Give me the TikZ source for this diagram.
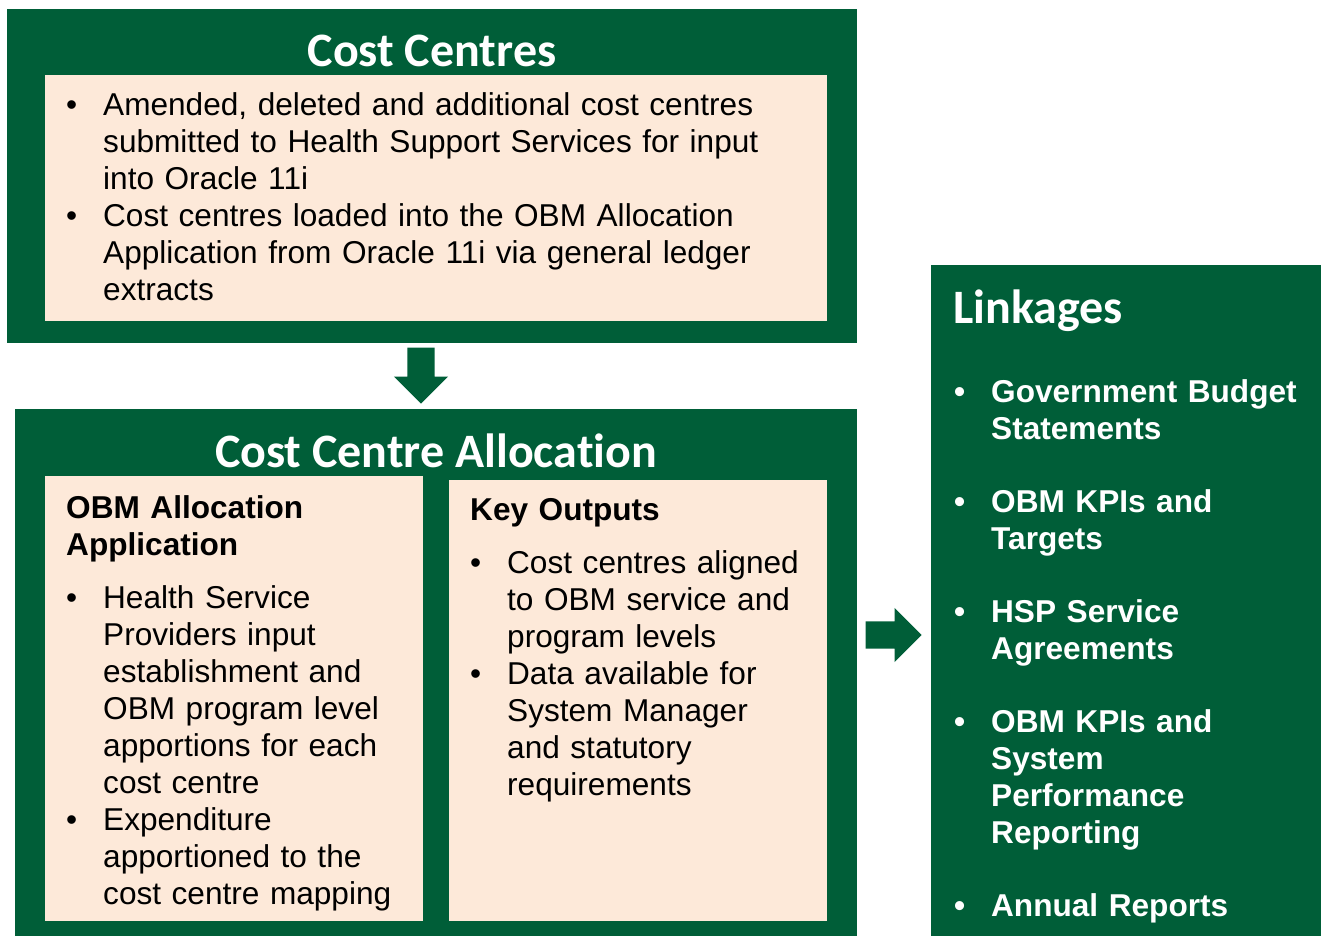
\documentclass[tikz,border=0pt]{standalone}
\usepackage{fontspec}
\setmainfont{Liberation Sans}
\newfontfamily\headfont[Ligatures=NoCommon]{Carlito}
\usepackage{xcolor}
\usepackage{tikz}
\usetikzlibrary{positioning,shapes.arrows}
\definecolor{WAGreen}{RGB}{0,94,56}
\definecolor{PeachFill}{RGB}{253,233,217}
\newcommand{\bul}[1]{\noindent\hangindent=37pt\hangafter=1\makebox[37pt][l]{\textbullet}\strut#1\par}

\begin{document}
\begin{tikzpicture}[x=1pt, y=-1pt,
    % Style cho khung
    greenbox/.style={rectangle, fill=WAGreen, inner sep=0pt, anchor=north west},
    peachbox/.style={rectangle, fill=PeachFill, inner sep=0pt, anchor=north west},
    % Style chữ
    boxtitle/.style={font=\headfont\bfseries\fontsize{48}{56}\selectfont, text=white, inner sep=0pt},
    bodytext/.style={font=\fontsize{31.6}{37}\selectfont, text=black, align=left, inner sep=0pt, anchor=north west},
    linktext/.style={bodytext, font=\bfseries\fontsize{31.6}{37}\selectfont, text=white},
    % Style mũi tên khối
    blockarrow/.style={single arrow, fill=WAGreen, inner xsep=0pt, inner ysep=13.5pt, minimum height=56,
        single arrow head extend=13.5pt, single arrow head indent=0pt, anchor=tip}
]
    \useasboundingbox (0,0) rectangle (1325,936);

    % --- KHUNG ---
    \node[greenbox, minimum width=850, minimum height=334] (ccBox) at (7,9) {};
    \node[peachbox, minimum width=782, minimum height=246] (ccInner) at (45,75) {};

    \node[greenbox, minimum width=842, minimum height=527] (allocBox) at (15,409) {};
    \node[peachbox, minimum width=378, minimum height=445] (obmInner) at (45,476) {};
    \node[peachbox, minimum width=378, minimum height=441] (keyInner) at (449,480) {};

    \node[greenbox, minimum width=390, minimum height=671] (linkBox) at (931,265) {};

    % --- MŨI TÊN ---
    \node[blockarrow, rotate=-90] (downArrow) at (421,404) {};
    \node[blockarrow] (rightArrow) at (922,635) {};

    % --- TIÊU ĐỀ ---
    \node[boxtitle, anchor=base] (ccTitle) at (432,67) {Cost Centres};
    \node[boxtitle, anchor=base] (allocTitle) at (436,467) {Cost Centre Allocation};
    \node[boxtitle, anchor=base west] (linkTitle) at (953,323) {Linkages};

    % --- NỘI DUNG ---
    \node[bodytext, text width=760] (ccList) at (66,89) {%
        \bul{Amended, deleted and additional cost centres\newline submitted to Health Support Services for input\newline into Oracle 11i}%
        \bul{Cost centres loaded into the OBM Allocation\newline Application from Oracle 11i via general ledger\newline extracts}};

    \node[bodytext, text width=355] (obmList) at (66,492) {%
        \strut\textbf{OBM Allocation\newline Application}\par\vskip16pt
        \bul{Health Service\newline Providers input\newline establishment and\newline OBM program level\newline apportions for each\newline cost centre}%
        \bul{Expenditure\newline apportioned to the\newline cost centre mapping}};

    \node[bodytext, text width=355] (keyList) at (470,494) {%
        \strut\textbf{Key Outputs}\par\vskip16pt
        \bul{Cost centres aligned\newline to OBM service and\newline program levels}%
        \bul{Data available for\newline System Manager\newline and statutory\newline requirements}};

    \node[linktext, text width=366] (linkList) at (954,376) {%
        \bul{Government Budget\newline Statements}\vskip36pt
        \bul{OBM KPIs and\newline Targets}\vskip36pt
        \bul{HSP Service\newline Agreements}\vskip36pt
        \bul{OBM KPIs and\newline System\newline Performance\newline Reporting}\vskip36pt
        \bul{Annual Reports}};

\end{tikzpicture}
\end{document}
